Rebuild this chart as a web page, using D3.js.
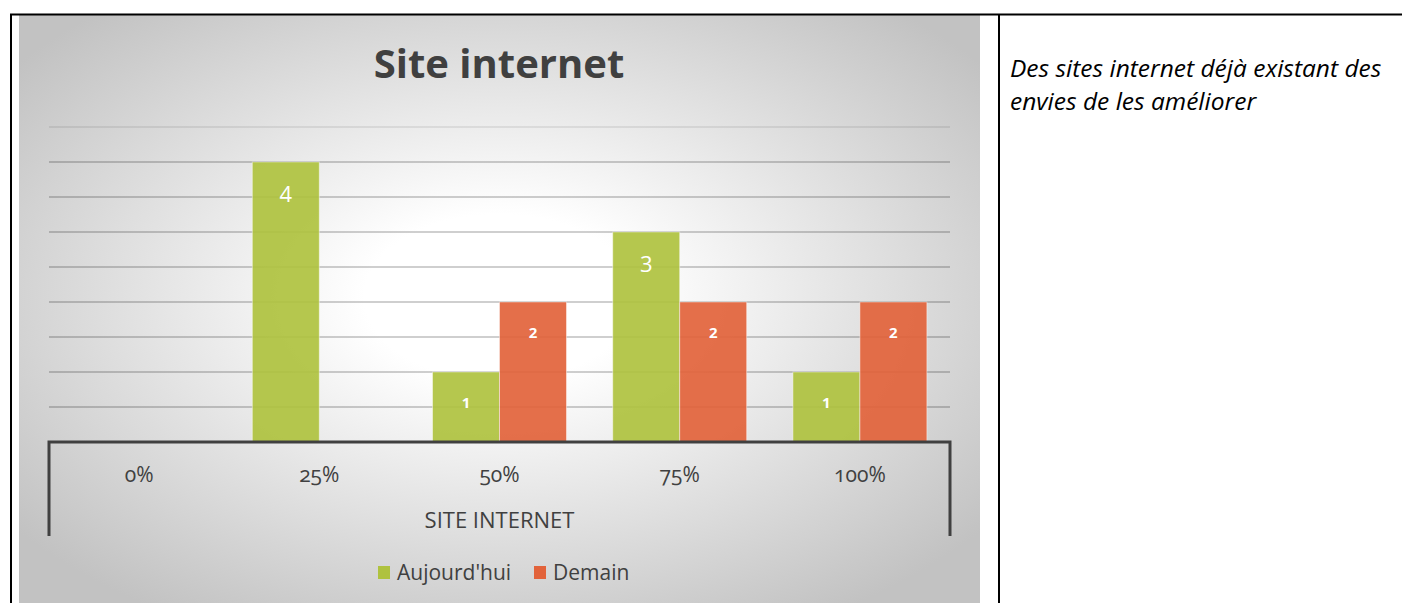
<!DOCTYPE html>
<html>
<head>
<meta charset="utf-8">
<script src="https://cdn.jsdelivr.net/npm/d3@7"></script>
<style>
  body { margin: 0; background: #fff; }
  svg { display: block; }
</style>
</head>
<body>
<script>
// values
const categories = ['0%', '25%', '50%', '75%', '100%'];
const series = ["Aujourd'hui", 'Demain'];
const today = [0, 4, 1, 3, 1];
const tomorrow = [0, 0, 2, 2, 2];
const yTicks = [0.5, 1, 1.5, 2, 2.5, 3, 3.5, 4, 4.5];
const colors = ['#afc23f', '#e2633b'];

const [w, h] = [1402, 603];
const font = "'Open Sans', 'Noto Sans', sans-serif";

const svg = d3.select('body')
    .append('svg')
    .attr('width', w)
    .attr('height', h);

// radial grey background of the chart area
const defs = svg.append('defs');
const grad = defs.append('radialGradient')
    .attr('id', 'bg')
    .attr('cx', '50%').attr('cy', '48%').attr('r', '64%');
grad.append('stop').attr('offset', '0%').attr('stop-color', '#ffffff');
grad.append('stop').attr('offset', '22%').attr('stop-color', '#ffffff');
grad.append('stop').attr('offset', '100%').attr('stop-color', '#c2c2c2');

svg.append('rect')
    .attr('x', 19).attr('y', 15)
    .attr('width', 961).attr('height', h - 15)
    .attr('fill', 'url(#bg)');

// table frame
svg.append('line').attr('x1', 10).attr('x2', w).attr('y1', 14.5).attr('y2', 14.5)
    .attr('stroke', '#000').attr('stroke-width', 2);
svg.append('line').attr('x1', 11).attr('x2', 11).attr('y1', 14).attr('y2', h)
    .attr('stroke', '#000').attr('stroke-width', 2);
svg.append('line').attr('x1', 999).attr('x2', 999).attr('y1', 14).attr('y2', h)
    .attr('stroke', '#000').attr('stroke-width', 2);

// scales
const left = 49, right = 950;
const xScale = d3.scaleBand().domain(categories).range([left, right]);
const xInner = d3.scaleBand().domain(series).range([0, xScale.bandwidth()]).paddingOuter(0.345);
const yScale = d3.scaleLinear().domain([0, 4.5]).range([442, 127]);

// gridlines
svg.append('g')
    .selectAll('line')
    .data(yTicks)
    .join('line')
    .attr('x1', left).attr('x2', right)
    .attr('y1', d => yScale(d)).attr('y2', d => yScale(d))
    .attr('stroke', '#000')
    .attr('stroke-opacity', d => d === 4.5 ? 0.1 : 0.25)
    .attr('stroke-width', 1.5);

// title
svg.append('text')
    .attr('x', 499).attr('y', 78)
    .attr('text-anchor', 'middle')
    .attr('font-family', font)
    .attr('font-weight', 'bold')
    .attr('font-size', '40px')
    .attr('fill', '#404040')
    .text('Site internet');

// bars
const rows = [];
categories.forEach((c, i) => {
    rows.push({ cat: c, s: series[0], v: today[i], k: 0 });
    rows.push({ cat: c, s: series[1], v: tomorrow[i], k: 1 });
});
const bars = rows.filter(d => d.v > 0);

svg.append('g')
    .selectAll('rect')
    .data(bars)
    .join('rect')
    .attr('x', d => xScale(d.cat) + xInner(d.s))
    .attr('y', d => yScale(d.v))
    .attr('width', xInner.bandwidth())
    .attr('height', d => yScale(0) - yScale(d.v))
    .attr('fill', d => colors[d.k])
    .attr('fill-opacity', 0.92)
    .attr('stroke', 'rgba(255,255,255,0.45)')
    .attr('stroke-width', 1);

// data labels
svg.append('g')
    .selectAll('text')
    .data(bars)
    .join('text')
    .attr('x', d => xScale(d.cat) + xInner(d.s) + xInner.bandwidth() / 2)
    .attr('y', d => yScale(d.v) + (d.v >= 3 ? 40 : 36))
    .attr('text-anchor', 'middle')
    .attr('font-family', font)
    .attr('font-weight', d => d.v >= 3 ? 'normal' : 'bold')
    .attr('font-size', d => d.v >= 3 ? '22px' : '15px')
    .attr('fill', '#fff')
    .text(d => d.v);

// category axis (multi-level look)
const ax = svg.append('g').attr('stroke', '#404040').attr('stroke-width', 3).attr('fill', 'none');
ax.append('path')
    .attr('d', `M${left},536 V${yScale(0)} H${right} V536`);

svg.append('g')
    .selectAll('text')
    .data(categories)
    .join('text')
    .attr('x', d => xScale(d) + xScale.bandwidth() / 2)
    .attr('y', 482)
    .attr('text-anchor', 'middle')
    .attr('font-family', font)
    .attr('font-size', '21px')
    .style('font-variant-numeric', 'oldstyle-nums')
    .attr('fill', '#404040')
    .text(d => d);

svg.append('text')
    .attr('x', (left + right) / 2).attr('y', 528)
    .attr('text-anchor', 'middle')
    .attr('font-family', font)
    .attr('font-size', '22px')
    .attr('fill', '#404040')
    .text('SITE INTERNET');

// legend
const legendX = [378, 534];
const legend = svg.append('g');
series.forEach((s, i) => {
    legend.append('rect')
        .attr('x', legendX[i]).attr('y', 566)
        .attr('width', 12).attr('height', 13)
        .attr('fill', colors[i]);
    legend.append('text')
        .attr('x', legendX[i] + 19).attr('y', 580)
        .attr('font-family', font)
        .attr('font-size', '21px')
        .attr('fill', '#404040')
        .text(s);
});

// note in the right cell
const note = ['Des sites internet déjà existant des', 'envies de les améliorer'];
svg.append('g')
    .selectAll('text')
    .data(note)
    .join('text')
    .attr('x', 1010)
    .attr('y', (d, i) => 77 + i * 33)
    .attr('font-family', font)
    .attr('font-style', 'italic')
    .attr('font-size', '24.5px')
    .attr('fill', '#000')
    .text(d => d);
</script>
</body>
</html>
